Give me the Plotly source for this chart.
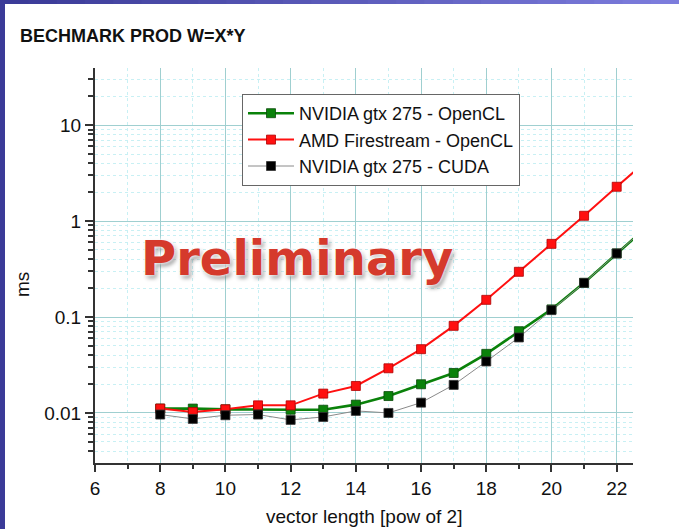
import plotly.graph_objects as go

# ---- data ----
x_pow = [8, 9, 10, 11, 12, 13, 14, 15, 16, 17, 18, 19, 20, 21, 22, 23]
nvidia_opencl = [0.0111, 0.0111, 0.0109, 0.0108, 0.0108, 0.0108, 0.0122, 0.0150, 0.0199,
                 0.0261, 0.0413, 0.0711, 0.120, 0.227, 0.460, 0.92]
amd_opencl = [0.0111, 0.0102, 0.0109, 0.0120, 0.0120, 0.0159, 0.0191, 0.0292, 0.0462,
              0.0809, 0.151, 0.296, 0.579, 1.136, 2.28, 4.5]
nvidia_cuda = [0.00962, 0.00866, 0.00946, 0.00962, 0.00846, 0.00908, 0.0105, 0.0100, 0.0128,
               0.0196, 0.0344, 0.0612, 0.118, 0.227, 0.460, 0.92]
series_names = ["NVIDIA gtx 275 - OpenCL", "AMD Firestream - OpenCL", "NVIDIA gtx 275 - CUDA"]

FONT = "Liberation Sans, Arial, sans-serif"

fig = go.Figure()
fig.add_trace(go.Scatter(
    x=x_pow, y=nvidia_opencl, name=series_names[0], mode="lines+markers",
    line=dict(color="#0a820a", width=2.6),
    marker=dict(symbol="square", size=9, color="#0a820a", line=dict(color="#0a4a0a", width=0.8)),
    legendrank=1))
fig.add_trace(go.Scatter(
    x=x_pow, y=amd_opencl, name=series_names[1], mode="lines+markers",
    line=dict(color="#ff1010", width=2),
    marker=dict(symbol="square", size=9, color="#ff1010", line=dict(color="#b00000", width=0.8)),
    legendrank=2))
fig.add_trace(go.Scatter(
    x=x_pow, y=nvidia_cuda, name=series_names[2], mode="lines+markers",
    line=dict(color="#8a8a8a", width=1),
    marker=dict(symbol="square", size=9, color="#000000", line=dict(color="#333333", width=0.8)),
    legendrank=3))

PL_LEFT, PL_RIGHT, PL_TOP, PL_BOTTOM = 95, 633, 68, 463
W, H = 679, 529
pw = PL_RIGHT - PL_LEFT
ph = PL_BOTTOM - PL_TOP


def px(xp):
    return (xp - PL_LEFT) / pw


def py(yp):
    return (PL_BOTTOM - yp) / ph


shapes = []
# left blue strip
shapes.append(dict(type="rect", xref="paper", yref="paper", x0=px(0), x1=px(5), y0=py(H), y1=py(0),
                   fillcolor="#3b3b98", line=dict(width=0), layer="below"))
# top gradient strip
n = 24
c0 = (0x3b, 0x3b, 0x98)
c1 = (0x7c, 0x7c, 0xdc)
for i in range(n):
    t = i / (n - 1)
    col = "rgb(%d,%d,%d)" % tuple(int(a + (b - a) * t) for a, b in zip(c0, c1))
    shapes.append(dict(type="rect", xref="paper", yref="paper",
                       x0=px(W * i / n), x1=px(W * (i + 1) / n + 1), y0=py(4), y1=py(0),
                       fillcolor=col, line=dict(width=0), layer="below"))

annotations = [
    dict(text="Preliminary", xref="paper", yref="paper", x=px(297), y=py(258),
         xanchor="center", yanchor="middle", showarrow=False,
         font=dict(family="DejaVu Sans, Verdana, sans-serif", size=48, color="#d53a2c", weight="bold",
                   shadow="0 0 3px #ffffff, 0 0 5px #ffffff, 2px 3px 4px rgba(0,0,0,0.45)")),
    dict(text="ms", xref="paper", yref="paper", x=px(22), y=py(285), textangle=-90,
         xanchor="center", yanchor="middle", showarrow=False,
         font=dict(family=FONT, size=19, color="#111111")),
    dict(text="vector length [pow of 2]", xref="paper", yref="paper", x=px(364), y=py(516),
         xanchor="center", yanchor="middle", showarrow=False,
         font=dict(family=FONT, size=19, color="#111111")),
]

fig.update_layout(
    width=W, height=H,
    margin=dict(l=PL_LEFT, r=W - PL_RIGHT, t=PL_TOP, b=H - PL_BOTTOM, pad=0),
    paper_bgcolor="white", plot_bgcolor="white",
    title=dict(text="<b>BECHMARK PROD W=X*Y</b>", x=20 / W, y=1 - 36 / H, xref="container", yref="container",
               xanchor="left", yanchor="middle", font=dict(family=FONT, size=18, color="#111111")),
    showlegend=True,
    legend=dict(x=px(242), y=py(94), xanchor="left", yanchor="top",
                bgcolor="white", bordercolor="#666666", borderwidth=1,
                font=dict(family=FONT, size=18, color="#111111"),
                itemwidth=46, tracegroupgap=0),
    shapes=shapes,
    annotations=annotations,
)

fig.update_xaxes(
    range=[6, 22.5], tickmode="linear", tick0=6, dtick=2,
    showline=True, linecolor="#333333", linewidth=2,
    ticks="outside", ticklen=7, tickwidth=1.5, tickcolor="#333333",
    showgrid=True, gridcolor="#9fcfd0", gridwidth=1, zeroline=False,
    tickfont=dict(family=FONT, size=19, color="#111111"),
    minor=dict(dtick=1, tick0=6, ticks="outside", ticklen=4, tickcolor="#333333",
               showgrid=True, gridcolor="#c8f0f4", griddash="dot", gridwidth=1),
)
fig.update_yaxes(
    type="log", range=[-2.522, 1.596], tickmode="linear", tick0=0, dtick=1,
    showline=True, linecolor="#333333", linewidth=2,
    ticks="outside", ticklen=8, tickwidth=1.5, tickcolor="#333333",
    showgrid=True, gridcolor="#9fcfd0", gridwidth=1, zeroline=False,
    tickfont=dict(family=FONT, size=19, color="#111111"),
    minor=dict(dtick="D1", ticks="outside", ticklen=5, tickcolor="#333333",
               showgrid=True, gridcolor="#c8f0f4", griddash="dot", gridwidth=1),
)

fig.write_html("out.html")
